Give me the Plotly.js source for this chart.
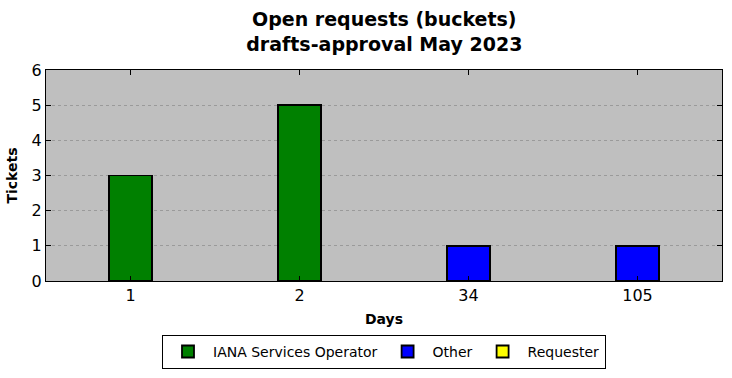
<!DOCTYPE html>
<html>
<head>
<meta charset="utf-8">
<script src="https://cdn.plot.ly/plotly-3.0.1.min.js"></script>
<style>html,body{margin:0;padding:0;background:#fff;}#chart{width:732px;height:378px;}</style>
</head>
<body>
<div id="chart"></div>
<script>
const categories = ["1", "2", "34", "105"];
const ianaValues = [3, 5, 0, 0];
const otherValues = [0, 0, 1, 1];
const requesterValues = [0, 0, 0, 0];
const yTicks = [0, 1, 2, 3, 4, 5, 6];

const seriesNames = ["IANA Services Operator", "Other", "Requester"];
const seriesColors = ["#008000", "#0000ff", "#ffff00"];
const seriesValues = [ianaValues, otherValues, requesterValues];

const traces = seriesValues.map((vals, i) => ({
  type: "bar",
  name: seriesNames[i],
  x: categories,
  y: vals,
  width: 0.25,
  marker: { color: seriesColors[i], line: { color: "#000", width: 1.8 } },
  hoverinfo: "none"
}));

const font = "DejaVu Sans, sans-serif";
const layout = {
  width: 732, height: 378,
  margin: { l: 46, r: 10, t: 70, b: 96 },
  paper_bgcolor: "#ffffff",
  plot_bgcolor: "#bfbfbf",
  barmode: "stack",
  font: { family: font, color: "#000" },
  title: {
    text: "<b>Open requests (buckets)<br>drafts-approval May 2023</b>",
    font: { family: font, size: 19, color: "#000" },
    x: 0.525, xanchor: "center", y: 0.93, yanchor: "middle"
  },
  xaxis: {
    type: "category",
    range: [-0.5, 3.5],
    title: { text: "<b>Days</b>", font: { family: font, size: 14 }, standoff: 9 },
    tickfont: { family: font, size: 16 },
    ticks: "inside", ticklen: 5, tickcolor: "#000",
    showline: true, linecolor: "#000", linewidth: 1.2, mirror: "ticks",
    showgrid: false, zeroline: false
  },
  yaxis: {
    range: [0, 6],
    tickvals: yTicks,
    title: { text: "<b>Tickets</b>", font: { family: font, size: 14 }, standoff: 10 },
    tickfont: { family: font, size: 16 },
    ticks: "inside", ticklen: 5, tickcolor: "#000",
    showline: true, linecolor: "#000", linewidth: 1.2, mirror: "ticks",
    showgrid: true, gridcolor: "#9a9a9a", griddash: "dot", gridwidth: 1,
    zeroline: false
  },
  showlegend: true,
  legend: {
    orientation: "h",
    x: 0.5, xanchor: "center",
    y: -0.41, yanchor: "bottom",
    bordercolor: "#000", borderwidth: 1,
    font: { family: font, size: 14 },
    traceorder: "normal",
    itemwidth: 40
  }
};

Plotly.newPlot("chart", traces, layout, { staticPlot: true, displayModeBar: false });
</script>
</body>
</html>
